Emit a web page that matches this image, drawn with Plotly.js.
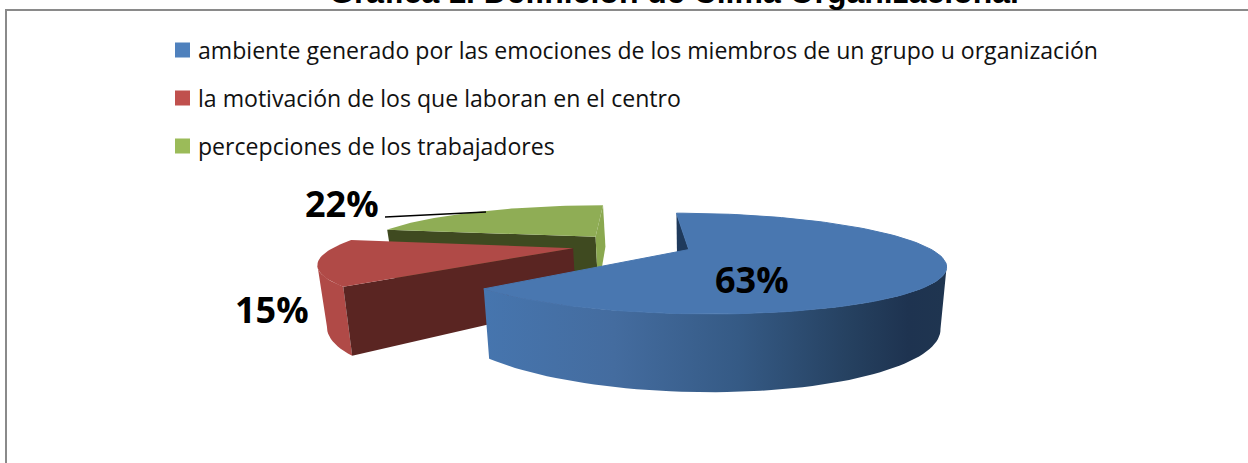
<!DOCTYPE html>
<html>
<head>
<meta charset="utf-8">
<script src="https://cdn.plot.ly/plotly-3.0.1.min.js"></script>
<style>html,body{margin:0;padding:0;background:#fff;overflow:hidden}</style>
</head>
<body>
<div id="chart" style="width:1248px;height:463px"></div>
<script>
const chartTitle = "Gráfica 1. Definición de Clima Organizacional";
const categories = [
  "ambiente generado por las emociones de los miembros de un grupo u organización",
  "la motivación de los que laboran en el centro",
  "percepciones de los trabajadores"
];
const shares = [63, 15, 22];
const legendColors = ["#4f81bd", "#c0504d", "#9bbb59"];
const topColors = ["#4977b0", "#b04a47", "#8fad55"];
const faceColors = ["#1f3a5c", "#5a2522", "#3f4a20"];

// projection of the exploded 3D pie onto pixel-scaled axes
const P = {x0: 632, y0: 245, R: 236, T: 44, k: 0.27, c: 0, d: 0.255, H: 55, xv: 700, shrink: 0.975};
const rad = a => a * Math.PI / 180;
let acc = 0;
const slices = shares.map(v => { const s = {a: acc * 3.6, b: (acc + v) * 3.6}; acc += v; s.m = (s.a + s.b) / 2; return s; });

function proj(sl, theta, r, lower) {
  const X = P.d * Math.sin(rad(sl.m)) + r * Math.sin(rad(theta));
  const Y = P.d * Math.cos(rad(sl.m)) + r * Math.cos(rad(theta));
  const s = 1 / (1 + P.k * Y);
  let x = P.x0 + (P.R * X - P.c * Y) * s;
  let y = P.y0 - P.T * Y * s;
  if (lower) { x = P.xv + (x - P.xv) * P.shrink; y += P.H * s; }
  return [x, y];
}
function angles(a, b) { const o = []; const n = Math.max(2, Math.ceil(Math.abs(b - a) / 2)); for (let i = 0; i <= n; i++) o.push(a + (b - a) * i / n); return o; }
function poly(pts, color, extra) {
  return Object.assign({type: "scatter", mode: "lines", x: pts.map(p => p[0]).concat(pts[0][0]), y: pts.map(p => p[1]).concat(pts[0][1]),
    fill: "toself", fillcolor: color, line: {width: 0, color: color}, showlegend: false, hoverinfo: "skip"}, extra || {});
}
const topFace = sl => [proj(sl, 0, 0, false)].concat(angles(sl.a, sl.b).map(t => proj(sl, t, 1, false)));
const wallOuter = (sl, a, b) => angles(a, b).map(t => proj(sl, t, 1, false)).concat(angles(a, b).reverse().map(t => proj(sl, t, 1, true)));
const cutFace = (sl, t) => [proj(sl, t, 1, false), proj(sl, t, 0, false), proj(sl, t, 0, true), proj(sl, t, 1, true)];
// the silhouette angle of a slice: where its rim reaches furthest left (-1) or right (+1)
function extreme(sl, sign) {
  let best = sl.a, bx = -Infinity;
  angles(sl.a, sl.b).forEach(t => { const v = sign * proj(sl, t, 1, false)[0]; if (v > bx) { bx = v; best = t; } });
  return best;
}

const [blue, red, green] = slices;
const traces = [
  poly(cutFace(green, green.a), faceColors[2]),
  poly(cutFace(green, green.b), "#8aa84f"),
  poly(topFace(green), topColors[2]),
  poly(wallOuter(red, red.a, extreme(red, -1)), topColors[1]),
  poly(cutFace(red, red.a), faceColors[1]),
  poly(topFace(red), topColors[1]),
  poly(cutFace(blue, blue.a), faceColors[0]),
  poly(wallOuter(blue, extreme(blue, 1), blue.b), "#3f5f8f", {
    fillgradient: {type: "horizontal", start: 485, stop: 945,
      colorscale: [[0, "#4675ae"], [0.28, "#446c9f"], [0.55, "#355a85"], [0.8, "#25405f"], [0.92, "#1e3350"], [1, "#1f3550"]]}
  }),
  poly(topFace(blue), topColors[0], {line: {width: 1, color: topColors[0]}})
];
categories.forEach((c, i) => traces.push({
  type: "scatter", mode: "markers", x: [null], y: [null], name: c, legendgroup: "g" + i,
  marker: {symbol: "square", size: 15, color: legendColors[i]}, hoverinfo: "skip"
}));

const labelFont = {family: "Open Sans", size: 36, color: "#000", weight: 700};
const layout = {
  width: 1248, height: 463, margin: {l: 0, r: 0, t: 0, b: 0}, paper_bgcolor: "#fff", plot_bgcolor: "#fff",
  title: {text: chartTitle, xref: "container", yref: "container", x: 674 / 1248, xanchor: "center", y: 1 - 3 / 463, yanchor: "bottom",
          font: {family: "Liberation Sans", size: 32, color: "#000", weight: 700}, pad: {t: 0, b: 0, l: 0, r: 0}},
  xaxis: {range: [0, 1248], visible: false, fixedrange: true},
  yaxis: {range: [463, 0], visible: false, fixedrange: true},
  showlegend: true,
  legend: {x: 158 / 1248, xanchor: "left", y: 1 - 28.5 / 463, yanchor: "top", bgcolor: "rgba(0,0,0,0)", tracegroupgap: 15,
           font: {family: "Open Sans", size: 23.08, color: "#111"}, itemclick: false, itemdoubleclick: false},
  shapes: [
    {type: "rect", xref: "x", yref: "y", x0: 6, y0: 10, x1: 1300, y1: 520, line: {color: "#8a8a8a", width: 2}, fillcolor: "rgba(0,0,0,0)", layer: "below"},
    {type: "line", xref: "x", yref: "y", x0: 385, y0: 217, x1: 486, y1: 212, line: {color: "#000", width: 1.5}}
  ],
  annotations: [
    {text: shares[0] + "%", x: 752, y: 279, xref: "x", yref: "y", showarrow: false, font: labelFont},
    {text: shares[1] + "%", x: 272, y: 309, xref: "x", yref: "y", showarrow: false, font: labelFont},
    {text: shares[2] + "%", x: 342, y: 203, xref: "x", yref: "y", showarrow: false, font: labelFont}
  ]
};
Plotly.newPlot("chart", traces, layout, {displayModeBar: false, staticPlot: true}).then(() => {
  document.querySelectorAll(".legend .legendsymbols").forEach(n => n.setAttribute("transform", "translate(4.5,0)"));
});
</script>
</body>
</html>
